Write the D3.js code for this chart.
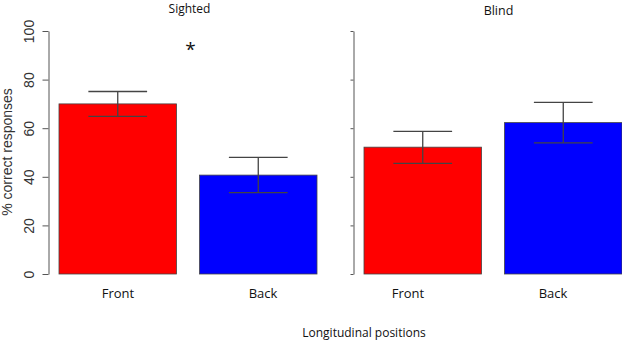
<!DOCTYPE html>
<html>
<head>
<meta charset="utf-8">
<script src="https://cdn.jsdelivr.net/npm/d3@7"></script>
<style>
  body { margin: 0; background: #fff; }
  text { font-family: "Open Sans", sans-serif; fill: #111; }
</style>
</head>
<body>
<div id="chart"></div>
<script>
let w = 622;
let h = 341;

// data
const panels = ['Sighted', 'Blind'];
const positions = ['Front', 'Back'];
const sightedMean = [70, 40.7];
const sightedLow = [64.9, 33.5];
const sightedHigh = [75.1, 48.0];
const blindMean = [52.2, 62.3];
const blindLow = [45.5, 54.0];
const blindHigh = [58.7, 70.6];
const yTicks = [0, 20, 40, 60, 80, 100];

const colors = {Front: '#ff0000', Back: '#0000ff'};

const data = [];
positions.forEach((p, i) => {
    data.push({panel: 'Sighted', pos: p, mean: sightedMean[i], lo: sightedLow[i], hi: sightedHigh[i]});
    data.push({panel: 'Blind', pos: p, mean: blindMean[i], lo: blindLow[i], hi: blindHigh[i]});
});

let svg = d3.select('#chart')
    .append('svg')
    .attr('width', w)
    .attr('height', h);

let yScale = d3.scaleLinear()
    .domain([0, 100])
    .range([274, 31]);

// each panel starts at its own y axis
let panelScale = d3.scaleBand()
    .domain(panels)
    .range([48.5, 658.5]);

let barScale = d3.scaleBand()
    .domain(positions)
    .range([10.5, 268.5])
    .paddingInner(0.164);

let labelScale = d3.scalePoint()
    .domain(['Sighted-Front', 'Sighted-Back', 'Blind-Front', 'Blind-Back'])
    .range([118, 553]);

// left axis with labels
let yAxis = d3.axisLeft(yScale)
    .tickValues(yTicks)
    .tickSize(6)
    .tickSizeOuter(0)
    .tickPadding(0)
    .tickFormat(d3.format('d'));

let gy = svg.append('g')
    .attr('transform', 'translate(' + panelScale('Sighted') + ',0)')
    .call(yAxis);
gy.selectAll('path, line').attr('stroke', '#555');
gy.selectAll('text')
    .attr('transform', 'translate(-19,0) rotate(-90)')
    .attr('x', 0)
    .attr('y', 0)
    .attr('dy', '0.35em')
    .style('text-anchor', 'middle')
    .style('font-family', '"Liberation Sans", Arial, sans-serif')
    .style('font-size', '14px')
    .style('fill', '#333');

// right panel axis, no labels
let yAxis2 = d3.axisLeft(yScale)
    .tickValues(yTicks)
    .tickSize(3)
    .tickSizeOuter(0)
    .tickFormat('');

let gy2 = svg.append('g')
    .attr('transform', 'translate(' + panelScale('Blind') + ',0)')
    .call(yAxis2);
gy2.selectAll('path, line').attr('stroke', '#555');

svg.append('text')
    .attr('transform', 'translate(12,' + 152 + ') rotate(-90)')
    .attr('text-anchor', 'middle')
    .style('font-family', '"Liberation Sans", Arial, sans-serif')
    .style('font-size', '14px')
    .style('fill', '#333')
    .text('% correct responses');

// bars
svg.selectAll('rect.bar')
    .data(data)
    .enter()
    .append('rect')
    .attr('class', 'bar')
    .attr('x', d => panelScale(d.panel) + barScale(d.pos))
    .attr('y', d => yScale(d.mean))
    .attr('width', barScale.bandwidth())
    .attr('height', d => yScale(0) - yScale(d.mean))
    .attr('fill', d => colors[d.pos])
    .attr('stroke', '#444')
    .attr('stroke-width', 0.8);

// error bars
let errG = svg.append('g')
    .attr('stroke', '#444')
    .attr('stroke-width', 1.3);

const cx = d => panelScale(d.panel) + barScale(d.pos) + barScale.bandwidth() / 2;
const capHalf = barScale.bandwidth() / 4;

errG.selectAll('line.stem')
    .data(data)
    .enter()
    .append('line')
    .attr('x1', cx).attr('x2', cx)
    .attr('y1', d => yScale(d.lo))
    .attr('y2', d => yScale(d.hi));

errG.selectAll('line.top')
    .data(data)
    .enter()
    .append('line')
    .attr('x1', d => cx(d) - capHalf).attr('x2', d => cx(d) + capHalf)
    .attr('y1', d => yScale(d.hi))
    .attr('y2', d => yScale(d.hi));

errG.selectAll('line.bottom')
    .data(data)
    .enter()
    .append('line')
    .attr('x1', d => cx(d) - capHalf).attr('x2', d => cx(d) + capHalf)
    .attr('y1', d => yScale(d.lo))
    .attr('y2', d => yScale(d.lo));

// category labels
svg.selectAll('text.cat')
    .data(data)
    .enter()
    .append('text')
    .attr('class', 'cat')
    .attr('x', d => labelScale(d.panel + '-' + d.pos))
    .attr('y', 298)
    .attr('text-anchor', 'middle')
    .style('font-size', '13px')
    .text(d => d.pos);

// panel titles
svg.append('text')
    .attr('x', panelScale('Sighted') + 141)
    .attr('y', 13)
    .attr('text-anchor', 'middle')
    .style('font-size', '12px')
    .text('Sighted');

svg.append('text')
    .attr('x', panelScale('Blind') + 145)
    .attr('y', 15)
    .attr('text-anchor', 'middle')
    .style('font-size', '12.5px')
    .text('Blind');

// significance marker
svg.append('text')
    .attr('x', panelScale('Sighted') + 142)
    .attr('y', yScale(95))
    .attr('dy', '0.7em')
    .attr('text-anchor', 'middle')
    .style('font-size', '19px')
    .text('*');

svg.append('text')
    .attr('x', 364)
    .attr('y', 337)
    .attr('text-anchor', 'middle')
    .style('font-size', '12px')
    .text('Longitudinal positions');
</script>
</body>
</html>
